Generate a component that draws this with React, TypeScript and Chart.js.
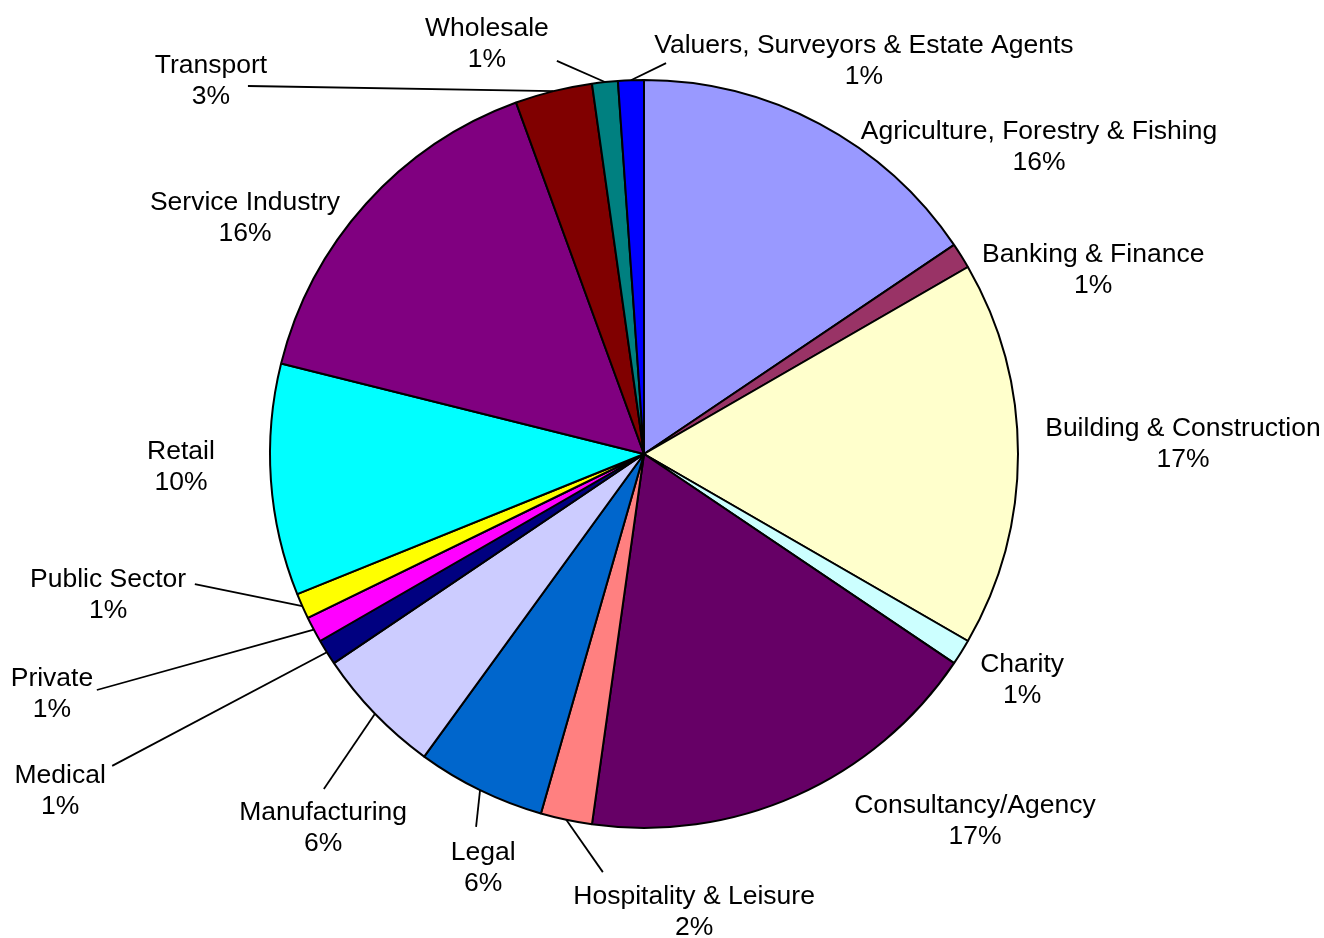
import React, { useEffect, useRef } from "react";
import { Chart, registerables } from "chart.js";

Chart.register(...registerables);

const categories = [
  "Agriculture, Forestry & Fishing",
  "Banking & Finance",
  "Building & Construction",
  "Charity",
  "Consultancy/Agency",
  "Hospitality & Leisure",
  "Legal",
  "Manufacturing",
  "Medical",
  "Private",
  "Public Sector",
  "Retail",
  "Service Industry",
  "Transport",
  "Wholesale",
  "Valuers, Surveyors & Estate Agents",
];

const values = [14, 1, 15, 1, 16, 2, 5, 5, 1, 1, 1, 9, 14, 3, 1, 1];

const percentLabels = [
  "16%", "1%", "17%", "1%", "17%", "2%", "6%", "6%",
  "1%", "1%", "1%", "10%", "16%", "3%", "1%", "1%",
];

const colors = [
  "#9999FF", "#993366", "#FFFFCC", "#CCFFFF", "#660066", "#FF8080",
  "#0066CC", "#CCCCFF", "#000080", "#FF00FF", "#FFFF00", "#00FFFF",
  "#800080", "#800000", "#008080", "#0000FF",
];

// label block centre offsets from pie centre, in units of radius
const labelOffsetX = [1.056, 1.201, 1.441, 1.011, 0.885, 0.134, -0.43, -0.858, -1.561, -1.583, -1.433, -1.238, -1.067, -1.158, -0.42, 0.588];
const labelOffsetY = [-0.82, -0.491, -0.026, 0.605, 0.982, 1.225, 1.108, 1.001, 0.902, 0.642, 0.378, 0.035, -0.63, -0.997, -1.096, -1.05];

// leader line start (label side), in units of radius; null = no leader
const leaderX: (number | null)[] = [null, null, null, null, null, -0.11, -0.449, -0.856, -1.422, -1.463, -1.201, null, null, -1.059, -0.233, 0.059];
const leaderY: (number | null)[] = [null, null, null, null, null, 1.118, 0.997, 0.896, 0.834, 0.631, 0.348, null, null, -0.984, -1.051, -1.045];

const FONT = "26.5px 'Liberation Sans', Arial, sans-serif";
const LINE_H = 30.5;

const outsideLabels = {
  id: "outsideLabels",
  afterDatasetsDraw(chart: any) {
    const ctx = chart.ctx;
    const meta = chart.getDatasetMeta(0);
    ctx.save();
    meta.data.forEach((arc: any, i: number) => {
      const { x, y, startAngle, endAngle, outerRadius } = arc.getProps(
        ["x", "y", "startAngle", "endAngle", "outerRadius"],
        true
      );
      const r = outerRadius;
      const lx = leaderX[i];
      const ly = leaderY[i];
      if (lx !== null && ly !== null) {
        const mid = (startAngle + endAngle) / 2;
        ctx.beginPath();
        ctx.strokeStyle = "#000";
        ctx.lineWidth = 1.8;
        ctx.moveTo(x + lx * r, y + ly * r);
        ctx.lineTo(x + Math.cos(mid) * r, y + Math.sin(mid) * r);
        ctx.stroke();
      }
      const cx = x + labelOffsetX[i] * r;
      const cy = y + labelOffsetY[i] * r;
      ctx.fillStyle = "#000";
      ctx.font = FONT;
      ctx.textAlign = "center";
      ctx.textBaseline = "middle";
      ctx.fillText(categories[i], cx, cy - LINE_H / 2);
      ctx.fillText(percentLabels[i], cx, cy + LINE_H / 2);
    });
    ctx.restore();
  },
};

export default function App() {
  const canvasRef = useRef<HTMLCanvasElement | null>(null);

  useEffect(() => {
    document.body.style.margin = "0";
    document.body.style.background = "#fff";
    const canvas = canvasRef.current;
    if (!canvas) return;
    const chart = new Chart(canvas, {
      type: "pie",
      data: {
        labels: categories,
        datasets: [
          {
            data: values,
            backgroundColor: colors,
            borderColor: "#000",
            borderWidth: 2,
          },
        ],
      },
      options: {
        animation: false,
        responsive: false,
        maintainAspectRatio: false,
        radius: 374,
        layout: { padding: { left: 0, right: 36, top: 0, bottom: 30 } },
        plugins: {
          legend: { display: false },
          tooltip: { enabled: false },
        },
      } as any,
      plugins: [outsideLabels],
    });
    return () => chart.destroy();
  }, []);

  return (
    <div style={{ width: 1324, height: 938, background: "#fff" }}>
      <canvas ref={canvasRef} width={1324} height={938} style={{ display: "block" }} />
    </div>
  );
}
